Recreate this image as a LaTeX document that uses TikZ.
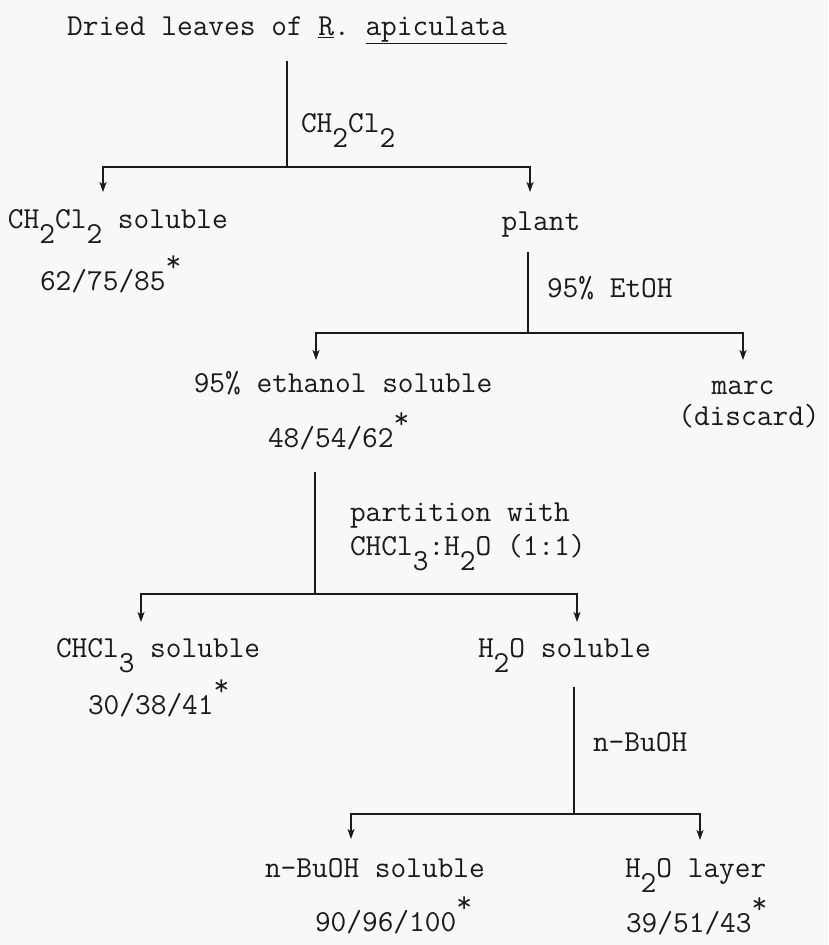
\documentclass[tikz,border=0pt]{standalone}
\usepackage{fontspec}
\usetikzlibrary{arrows.meta}
\definecolor{ink}{HTML}{1A1A1A}
\definecolor{paper}{HTML}{F8F8F6}
\newcommand{\lowr}[1]{\raisebox{-0.5em}{#1}}
\newcommand{\astr}{\raisebox{0.6em}{*}}
\begin{document}
\begin{tikzpicture}[x=1pt,y=-1pt,
  txt/.style={inner sep=0pt, outer sep=0pt, text=ink, font=\ttfamily\fontsize{30.5}{34}\selectfont},
  lbl/.style={txt, anchor=base west},
  ctr/.style={txt, anchor=base},
  conn/.style={draw=ink, line width=1.6pt},
  arr/.style={conn, -{Stealth[length=10pt,width=7pt,inset=2.5pt]}}]
\fill[paper] (0,0) rectangle (828,945);
\useasboundingbox (0,0) rectangle (828,945);

% texts
\node[ctr] (title) at (287,35) {Dried leaves of \underline{R}.\ \underline{apiculata}};
\node[lbl] (solv1) at (301,132) {CH\lowr{2}Cl\lowr{2}};
\node[lbl] (dcm) at (8,228) {CH\lowr{2}Cl\lowr{2} soluble};
\node[lbl] (dcmv) at (40,290) {62/75/85\astr};
\node[ctr] (plant) at (541,230) {plant};
\node[lbl] (solv2) at (547,297) {95\% EtOH};
\node[ctr] (eth) at (343,392) {95\% ethanol soluble};
\node[ctr] (marc) at (743,394) {marc};
\node[ctr] (discard) at (749,425) {(discard)};
\node[lbl] (ethv) at (268,447) {48/54/62\astr};
\node[lbl] (solv3a) at (350,521) {partition with};
\node[lbl] (solv3b) at (350,555) {CHCl\lowr{3}:H\lowr{2}O (1:1)};
\node[lbl] (chcl) at (56,657) {CHCl\lowr{3} soluble};
\node[lbl] (chclv) at (88,714) {30/38/41\astr};
\node[lbl] (water) at (478,657) {H\lowr{2}O soluble};
\node[lbl] (solv4) at (593,751) {n-BuOH};
\node[lbl] (buoh) at (265,877) {n-BuOH soluble};
\node[lbl] (buohv) at (315,931) {90/96/100\astr};
\node[lbl] (layer) at (625,877) {H\lowr{2}O layer};
\node[lbl] (layerv) at (626,932) {39/51/43\astr};

% junctions and arrow tips
\coordinate (j1) at (287,167);
\coordinate (a1) at (103,192);
\coordinate (b1) at (530,192);
\coordinate (j2) at (528,333);
\coordinate (a2) at (316,360);
\coordinate (b2) at (743,360);
\coordinate (j3) at (315,594);
\coordinate (a3) at (141,622);
\coordinate (b3) at (577,622);
\coordinate (j4) at (574,814);
\coordinate (a4) at (351,839);
\coordinate (b4) at (700,840);

% stems
\draw[conn, shorten <=26pt] (title.base -| j1) -- (j1);
\draw[conn, shorten <=22pt] (plant.base -| j2) -- (j2);
\draw[conn, shorten <=25pt] (ethv.base -| j3) -- (j3);
\draw[conn, shorten <=30pt] (water.base -| j4) -- (j4);

% branches
\draw[arr] (j1) -| (a1);
\draw[arr] (j1) -| (b1);
\draw[arr] (j2) -| (a2);
\draw[arr] (j2) -| (b2);
\draw[arr] (j3) -| (a3);
\draw[arr] (j3) -| (b3);
\draw[arr] (j4) -| (a4);
\draw[arr] (j4) -| (b4);
\end{tikzpicture}
\end{document}
